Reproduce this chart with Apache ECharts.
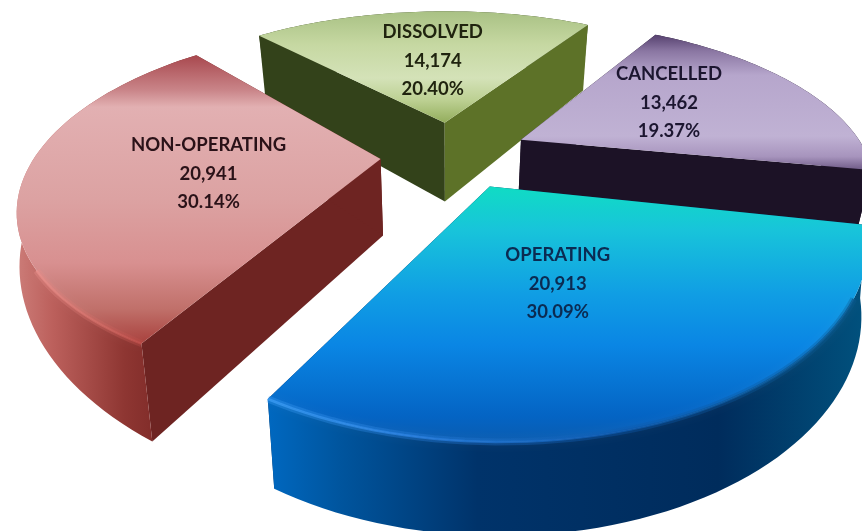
<!DOCTYPE html>
<html>
<head>
<meta charset="utf-8">
<style>
  html, body { margin: 0; padding: 0; background: #fff; }
  #chart { width: 862px; height: 531px; }
</style>
<script src="https://cdn.jsdelivr.net/npm/echarts@6/dist/echarts.min.js"></script>
</head>
<body>
<div id="chart"></div>
<script>
// clockwise round the pie, starting from the back left
const categories = ['DISSOLVED', 'CANCELLED', 'OPERATING', 'NON-OPERATING']
const counts = [14174, 13462, 20913, 20941]
const percentLabels = ['20.40%', '19.37%', '30.09%', '30.14%']

// back to front
const drawOrder = [0, 1, 3, 2]

// tilted disc, seen in perspective
const view = { cx: 451, cy: 150, radius: 345, tilt: 0.5, persp: 0.25, explode: 0.21, startAngle: -42, converge: 0.035 }

const vertical = (stops) => ({ type: 'linear', x: 0, y: 0, x2: 0, y2: 1, colorStops: stops.map((s) => ({ offset: s[0], color: s[1] })) })
const horizontal = (stops) => ({ type: 'linear', x: 0, y: 0, x2: 1, y2: 0, colorStops: stops.map((s) => ({ offset: s[0], color: s[1] })) })

const looks = [
  {
    depth: 83, nudge: [0, 7], squash: 0.885, taper: [0.8, 0.8], leanFade: [1, 1],
    top: vertical([[0, '#a9c184'], [0.3, '#c6d8a2'], [0.6, '#d4e2b8'], [0.8, '#bcd092'], [1, '#93ad5c']]),
    rim: '#33401a', before: '#33421a', after: '#5d7228', text: '#20240f', labelOffset: [-12, -62]
  },
  {
    depth: 57, nudge: [5, 4], squash: 0.9, taper: [1, 1], leanFade: [1, 1],
    top: vertical([[0, '#55406e'], [0.12, '#8a76a2'], [0.3, '#b6a6cc'], [0.75, '#c0b2d4'], [0.9, '#a794bd'], [1, '#6e5a86']]),
    rim: '#1c1226', before: '#1c1226', after: '#1c1226', text: '#1c1630', labelOffset: [148, -37]
  },
  {
    depth: 66, nudge: [7, 2], squash: 0.99, taper: [1, 1], leanFade: [0.4, 1],
    top: vertical([[0, '#10dcc4'], [0.17, '#18c4da'], [0.42, '#109ee4'], [0.62, '#0a86e4'], [0.9, '#0464c4'], [1, '#0a5cb0']]),
    rim: horizontal([[0, '#0068c0'], [0.12, '#00559e'], [0.35, '#00336a'], [0.75, '#002c5c'], [1, '#01527e']]),
    before: '#002c5c', after: '#002c5c', text: '#0b2b52', labelOffset: [68, 97],
    glow: horizontal([[0, '#3a9cf4'], [0.25, '#2a80e0'], [0.6, '#0d5ab0'], [1, '#0a5a90']])
  },
  {
    depth: 76, nudge: [2, 5], squash: 0.95, taper: [1, 0.4], leanFade: [1, -1],
    top: vertical([[0, '#a8484e'], [0.12, '#c98488'], [0.18, '#e2b0b2'], [0.5, '#dca2a2'], [0.72, '#d89090'], [0.88, '#c0706a'], [1, '#a8403c']]),
    rim: horizontal([[0, '#cc7c78'], [0.2, '#bc605c'], [0.6, '#8e3632'], [1, '#701f1e']]),
    before: '#6e2422', after: '#6e2422', text: '#2a1218', labelOffset: [-172, 15],
    glow: horizontal([[0, '#e8908c'], [0.6, '#d06a64'], [1, '#bc4a46']])
  }
]

const total = counts.reduce((a, b) => a + b, 0)
const fmt = (n) => n.toLocaleString('en-US')

function project(u, v) {
  const s = 1 / (1 - view.persp * v)
  return { x: view.cx + view.radius * u * s, y: view.cy + view.radius * view.tilt * v * s, s: s }
}

// angles of every slice come from the counts
function sliceAngles(i) {
  let from = view.startAngle
  for (let k = 0; k < i; k++) from += counts[k] / total * 360
  return [from, from + counts[i] / total * 360]
}

function renderSlice(params, api) {
  const i = drawOrder[params.dataIndex]
  const look = looks[i]
  const [a0, a1] = sliceAngles(i)
  const mid = (a0 + a1) / 2 * Math.PI / 180
  const au = view.explode * Math.sin(mid)
  const av = -view.explode * Math.cos(mid)
  const rawApex = project(au, av)
  const place = (p) => ({
    x: p.x + look.nudge[0],
    y: rawApex.y + (p.y - rawApex.y) * look.squash + look.nudge[1],
    s: p.s
  })
  const apex = place(rawApex)

  const rim = []
  for (let k = 0; k <= 60; k++) {
    const a = (a0 + (a1 - a0) * k / 60) * Math.PI / 180
    rim.push(place(project(au + Math.sin(a), av - Math.cos(a))))
  }
  // vertical edges lean in towards the middle as they go down
  const lean = (x, f) => x + (view.cx - x) * view.converge * f
  const down = (p) => [lean(p.x, 1), p.y + look.depth * p.s]
  const flat = (p) => [p.x, p.y]
  const first = rim[0]
  const last = rim[rim.length - 1]
  const rimBottom = rim.map((p, k) => {
    const t = k / (rim.length - 1)
    const f = look.taper[0] + (look.taper[1] - look.taper[0]) * t
    const lf = Math.max(0, look.leanFade[0] + (look.leanFade[1] - look.leanFade[0]) * t)
    return [lean(p.x, lf), p.y + look.depth * f * p.s]
  })

  const rimFace = { type: 'polygon', shape: { points: rim.map(flat).concat(rimBottom.reverse()) }, style: { fill: look.rim } }
  const sideFaces = [
    { type: 'polygon', shape: { points: [flat(apex), flat(first), down(first), down(apex)] }, style: { fill: look.before } },
    { type: 'polygon', shape: { points: [flat(apex), flat(last), down(last), down(apex)] }, style: { fill: look.after } }
  ]
  // a slice facing the viewer shows its rim over the cut faces, a far one the other way round
  const faces = Math.cos(mid) < 0 ? sideFaces.concat(rimFace) : [rimFace].concat(sideFaces)
  const children = faces.concat([
    { type: 'polygon', shape: { points: [flat(apex)].concat(rim.map(flat)) }, style: { fill: look.top } }
  ])
  if (look.glow) {
    const front = rim.filter((p) => p.y > apex.y + 110)
    children.push({
      type: 'polyline',
      shape: { points: front.map(flat) },
      style: { fill: null, stroke: look.glow, lineWidth: 7, opacity: 0.35, shadowBlur: 8, shadowColor: 'rgba(255,255,255,0.1)' }
    })
    children.push({
      type: 'polyline',
      shape: { points: front.map(flat) },
      style: { fill: null, stroke: look.glow, lineWidth: 2.5, opacity: 0.8 }
    })
  }
  children.push({
    type: 'text',
    style: {
      x: apex.x + look.labelOffset[0],
      y: apex.y + look.labelOffset[1],
      text: [categories[i], fmt(api.value(0)), percentLabels[i]].join('\n'),
      fill: look.text,
      font: 'bold 18.5px Lato',
      lineHeight: 28.5,
      align: 'center',
      verticalAlign: 'middle'
    }
  })
  return { type: 'group', children: children }
}

const chart = echarts.init(document.getElementById('chart'))
chart.setOption({
  backgroundColor: '#fff',
  animation: false,
  series: [
    {
      type: 'custom',
      coordinateSystem: 'none',
      clip: false,
      renderItem: renderSlice,
      data: drawOrder.map((i) => [counts[i]])
    }
  ]
})
</script>
</body>
</html>
